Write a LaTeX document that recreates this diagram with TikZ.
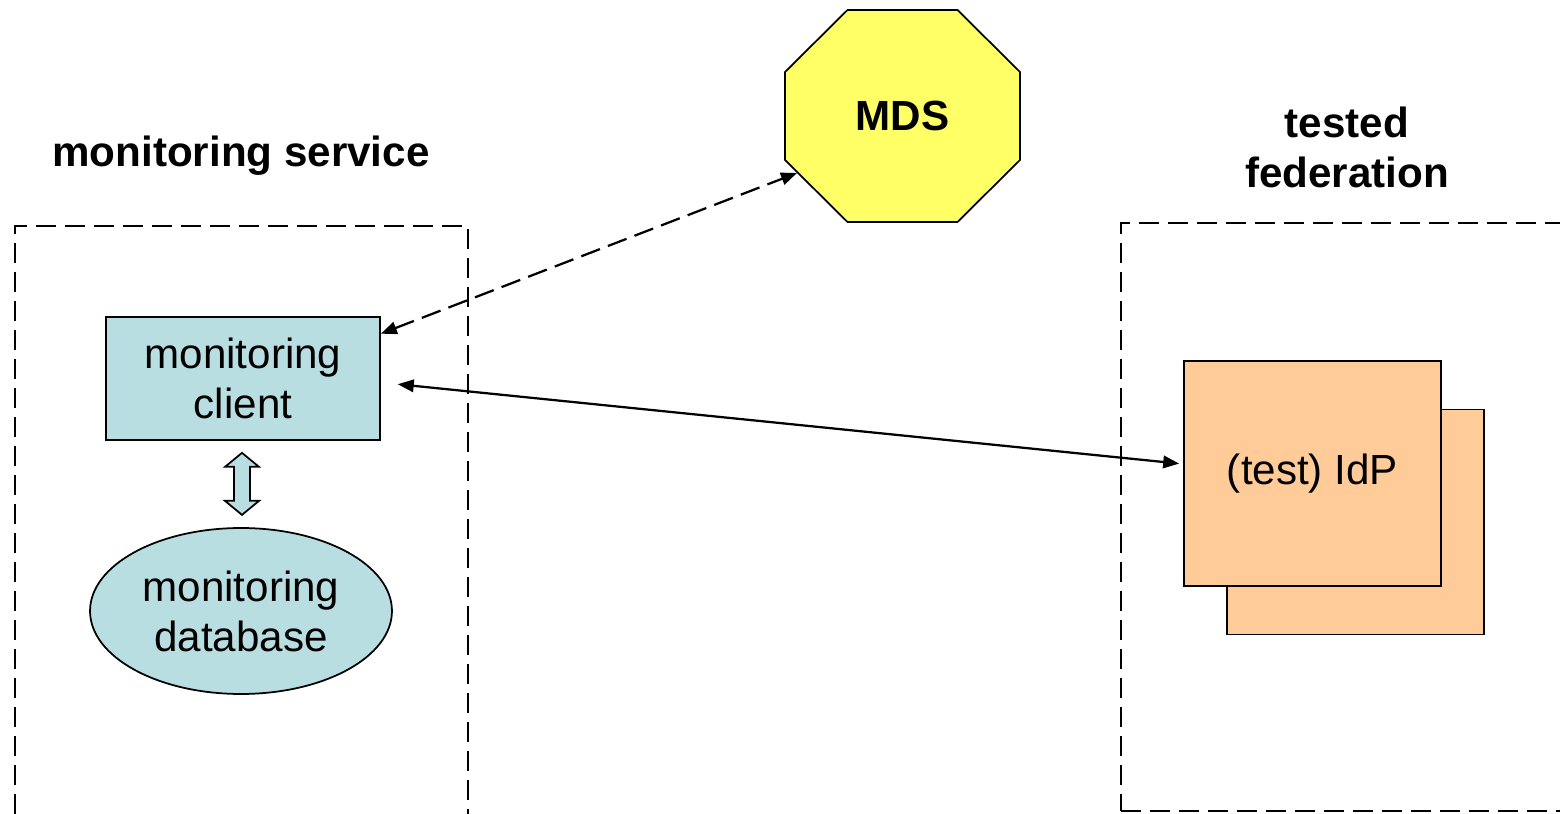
\documentclass[tikz,border=0pt]{standalone}
\usepackage{fontspec}
\setmainfont{Liberation Sans}
\usetikzlibrary{positioning, arrows.meta, shapes.geometric, calc}

\definecolor{clientblue}{RGB}{184,222,226}
\definecolor{idporange}{RGB}{255,204,153}
\definecolor{mdsyellow}{RGB}{255,255,102}

\begin{document}
\begin{tikzpicture}[
    x=0.02cm, y=-0.02cm,
    font=\fontsize{24}{28.5}\selectfont,
    block/.style={rectangle, draw=black, line width=0.035cm, fill=clientblue, align=center, minimum width=5.48cm, minimum height=2.46cm},
    dbnode/.style={ellipse, draw=black, line width=0.035cm, fill=clientblue, align=center, minimum width=6.04cm, minimum height=3.32cm},
    idpbox/.style={rectangle, draw=black, line width=0.035cm, fill=idporange, minimum width=5.14cm, minimum height=4.5cm},
    mdsshape/.style={draw=black, line width=0.035cm, fill=mdsyellow},
    region/.style={rectangle, draw=black, line width=0.05cm, dash pattern=on 0.4cm off 0.18cm},
    title/.style={align=center, font=\fontsize{24}{28.5}\selectfont\bfseries},
    arrow/.style={{Triangle[length=0.32cm, width=0.25cm]}-{Triangle[length=0.32cm, width=0.25cm]}, line width=0.045cm}
]
\useasboundingbox (0,0) rectangle (1560,814);
\clip (0,0) rectangle (1560,814);

% Regions
\node (monbox) [region, minimum width=9.06cm, minimum height=12.28cm] at (241.5,533) {};
\node (fedbox) [region, minimum width=9.58cm, minimum height=11.76cm] at (1360.5,517) {};
\node (montitle) [title, anchor=base] at (241,167) {monitoring service};
\node (fedtitle) [title] at (1347,147) {tested\\federation};

% MDS octagon
\coordinate (mdsc) at (902.5,116);
\draw [mdsshape, shift={(mdsc)}] (-55,-106) -- (55,-106) -- (117.5,-44) -- (117.5,44) -- (55,106) -- (-55,106) -- (-117.5,44) -- (-117.5,-44) -- cycle;
\node (mds) [title] at (mdsc) {MDS};
\coordinate (mdsedge) at ($(mdsc)+(-105.5,57)$);

% Nodes
\node (client) [block] at (243,378.5) {monitoring\\client};
\node (db) [dbnode] at (241,611) {monitoring\\database};
\node (idpback) [idpbox] at (1355.5,522) {};
\node (idp) [idpbox] at (1312.5,473.5) {(test) IdP};

% Arrows
\draw [arrow, dash pattern=on 0.4cm off 0.17cm] (client.18) -- (mdsedge);
\draw [arrow, shorten <=0.34cm, shorten >=0.08cm] ([yshift=-0.08cm]client.east) -- ([yshift=0.19cm]idp.west);
\draw [line width=0.035cm, fill=clientblue] ($(client.south)+(-1,12)$) -- ++(-17,14) -- ++(9,0) -- ++(0,34) -- ++(-9,0) -- ++(17,14) -- ++(17,-14) -- ++(-9,0) -- ++(0,-34) -- ++(9,0) -- cycle;

\end{tikzpicture}
\end{document}
